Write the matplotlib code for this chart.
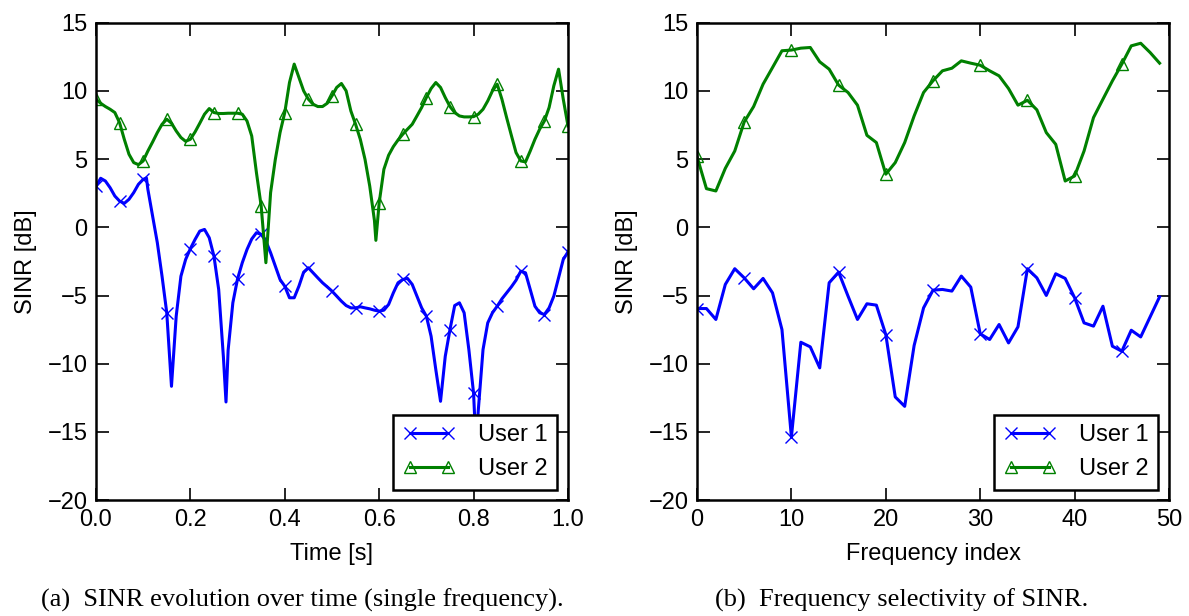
#!/usr/bin/env python3

import numpy as np
import matplotlib.pyplot as plt

# (a) SINR over time, sampled every 10 ms, plus a few extra samples at the sharp fades
time_grid = np.linspace(0, 1, 101)
user1_time = [
	3.00, 3.60, 3.40, 2.91, 2.30, 1.93, 1.76, 2.06, 2.55, 3.16,
	3.52, 2.79, 0.83, -1.12, -3.58, -6.26, -11.65, -6.51, -3.58, -2.35,
	-1.56, -0.88, -0.27, -0.15, -0.76, -2.11, -4.55, -9.50, -9.00, -5.53,
	-3.77, -2.59, -1.62, -0.85, -0.39, -0.51, -1.00, -1.86, -2.84, -3.82,
	-4.31, -5.16, -5.16, -4.31, -3.28, -2.96, -3.33, -3.70, -4.06, -4.36,
	-4.67, -5.04, -5.41, -5.73, -5.90, -5.90, -5.82, -5.90, -5.97, -6.07,
	-6.14, -6.07, -5.65, -4.80, -4.06, -3.82, -3.74, -4.18, -5.04, -5.90,
	-6.51, -7.98, -10.43, -12.75, -9.45, -7.49, -5.73, -5.53, -6.26, -8.96,
	-12.16, -13.40, -8.96, -7.00, -6.26, -5.78, -5.24, -4.80, -4.36, -3.87,
	-3.21, -3.33, -4.55, -5.78, -6.26, -6.39, -5.90, -5.04, -3.70, -2.35,
	-1.80]
user2_time = [
	9.40, 9.10, 8.86, 8.66, 8.42, 7.68, 6.46, 5.36, 4.75, 4.60,
	4.87, 5.60, 6.26, 6.95, 7.56, 7.93, 7.64, 7.07, 6.59, 6.31,
	6.46, 7.00, 7.64, 8.30, 8.71, 8.42, 8.35, 8.35, 8.37, 8.37,
	8.37, 8.30, 7.80, 6.70, 4.01, 1.57, -2.59, 2.55, 4.99, 6.95,
	8.42, 10.62, 11.97, 10.99, 10.01, 9.40, 9.03, 8.86, 8.86, 9.10,
	9.64, 10.26, 10.55, 10.01, 8.54, 7.56, 6.46, 4.99, 3.03, 0.50,
	1.80, 4.26, 5.29, 5.92, 6.41, 6.83, 7.20, 7.56, 8.17, 8.79,
	9.52, 10.18, 10.62, 10.26, 9.52, 8.86, 8.42, 8.17, 8.10, 8.10,
	8.12, 8.30, 8.66, 9.27, 10.01, 10.50, 9.40, 8.05, 6.75, 5.48,
	4.87, 4.80, 5.60, 6.46, 7.20, 7.80, 8.79, 10.38, 11.60, 9.40,
	7.44]
user1_fade_t = [0.107, 0.2755, 0.805]
user1_fade_v = [3.62, -12.8, -16.0]
user2_fade_t = [0.593]
user2_fade_v = [-0.95]

# (b) SINR per frequency index
freq_idx = np.arange(50)
user1_freq = [
	-5.95, -5.95, -6.75, -4.18, -3.03, -3.70, -4.50, -3.74, -4.80, -7.49,
	-15.37, -8.42, -8.76, -10.30, -4.06, -3.28, -5.04, -6.75, -5.60, -5.70,
	-7.86, -12.43, -13.12, -8.66, -5.90, -4.60, -4.55, -4.67, -3.57, -4.38,
	-7.80, -8.22, -7.12, -8.47, -7.29, -3.03, -3.70, -4.99, -3.40, -3.74,
	-5.16, -7.00, -7.24, -5.78, -8.71, -9.08, -7.54, -8.03, -6.56, -5.09]
user2_freq = [
	5.20, 2.84, 2.67, 4.33, 5.60, 7.73, 8.86, 10.50, 11.72, 12.95,
	13.00, 13.14, 13.19, 12.14, 11.60, 10.43, 9.89, 8.96, 6.75, 6.22,
	3.90, 4.75, 6.22, 8.17, 9.89, 10.75, 11.48, 11.67, 12.21, 12.04,
	11.89, 11.48, 11.11, 10.18, 8.96, 9.32, 8.62, 6.95, 6.09, 3.40,
	3.77, 5.60, 8.05, 9.40, 10.74, 11.97, 13.31, 13.50, 12.82, 12.04]


def merge(t, v, extra_t, extra_v):
	t = np.concatenate([t, extra_t])
	v = np.concatenate([v, extra_v])
	order = np.argsort(t)
	return t[order], v[order]


def marks_at(t, step):
	# indices of the samples that sit on the marker spacing
	q = np.asarray(t) / step
	return list(np.flatnonzero(np.isclose(q, np.round(q))))


plt.rcParams['font.family'] = ['Liberation Sans', 'DejaVu Sans']
plt.rcParams['mathtext.default'] = 'regular'

fig = plt.figure(figsize=(11.89, 6.16), dpi=100)
ax1 = fig.add_axes([0.0807, 0.188, 0.397, 0.775])
ax2 = fig.add_axes([0.5862, 0.188, 0.397, 0.775])

u1 = dict(color='b', lw=2.2, marker='x', ms=9, mew=1.0, label='User 1')
u2 = dict(color='g', lw=2.2, marker='^', ms=9, mew=1.0, mfc='none', label='User 2')

t1, v1 = merge(time_grid, user1_time, user1_fade_t, user1_fade_v)
t2, v2 = merge(time_grid, user2_time, user2_fade_t, user2_fade_v)
ax1.plot(t1, v1, markevery=marks_at(t1, 0.05), **u1)
ax1.plot(t2, v2, markevery=marks_at(t2, 0.05), **u2)
ax1.set_xlim(0, 1)
ax1.set_xticks(np.arange(0, 1.01, 0.2))
ax1.set_xticklabels(['{:.1f}'.format(x) for x in np.arange(0, 1.01, 0.2)])
ax1.set_xlabel('Time [s]', fontsize=17, labelpad=9)

ax2.plot(freq_idx, user1_freq, markevery=5, **u1)
ax2.plot(freq_idx, user2_freq, markevery=5, **u2)
ax2.set_xlim(0, 50)
ax2.set_xticks(np.arange(0, 51, 10))
ax2.set_xlabel('Frequency index', fontsize=17, labelpad=9)

for ax in (ax1, ax2):
	ax.set_ylim(-20, 15)
	ax.set_yticks(np.arange(-20, 16, 5))
	ax.set_ylabel('SINR [dB]', fontsize=17, labelpad=8)
	ax.tick_params(direction='in', length=9, width=1.2, top=True, right=True,
		labelsize=17, pad=6)
	for s in ax.spines.values():
		s.set_linewidth(1.8)
	leg = ax.legend(loc='lower right', numpoints=2, fancybox=False, fontsize=17,
		handlelength=2.2, borderaxespad=0.45, framealpha=1, borderpad=0.4,
		labelspacing=0.5, handletextpad=1.0)
	leg.get_frame().set_edgecolor('k')
	leg.get_frame().set_linewidth(1.8)

fig.text(0.254, 0.015, '(a)  SINR evolution over time (single frequency).',
	ha='center', family='Liberation Serif', fontsize=19)
fig.text(0.758, 0.015, '(b)  Frequency selectivity of SINR.',
	ha='center', family='Liberation Serif', fontsize=19)

plt.savefig('out.png', dpi=100)
